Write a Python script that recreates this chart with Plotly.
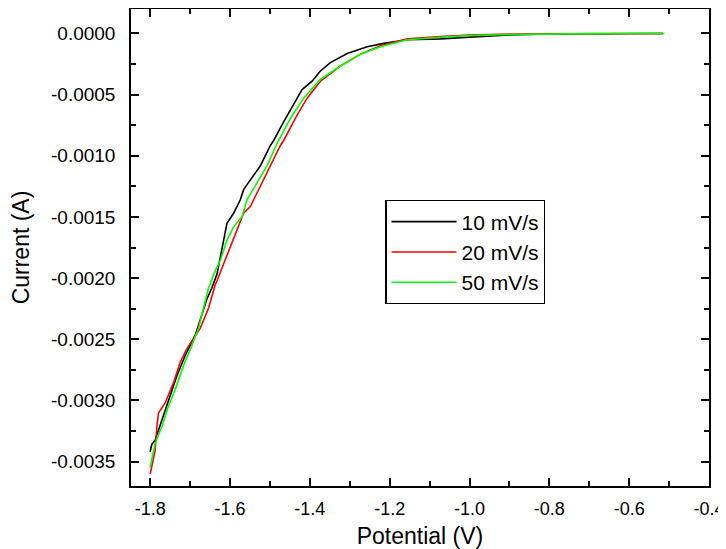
import plotly.graph_objects as go

# ── data (potential in V, current in A) ──
v_10 = [-1.800, -1.796, -1.7875, -1.7706, -1.7541, -1.7330, -1.7122, -1.6871, -1.6577,
        -1.6452, -1.6327, -1.6244, -1.6161, -1.6076, -1.5910, -1.5742, -1.5659, -1.5448,
        -1.5240, -1.4989, -1.4906, -1.4656, -1.4405, -1.4194, -1.3943, -1.3735, -1.3484,
        -1.3065, -1.2563, -1.2146, -1.1559, -1.0724, -1.000, -0.900, -0.800, -0.700,
        -0.600, -0.515]
i_10 = [-0.00342, -0.00336, -0.003325, -0.003159, -0.002993, -0.002799, -0.002633,
        -0.002467, -0.00217, -0.002079, -0.001969, -0.001830, -0.001664, -0.001553,
        -0.001470, -0.001360, -0.001277, -0.001179, -0.001082, -0.000916, -0.000875,
        -0.000723, -0.000584, -0.000459, -0.000390, -0.000307, -0.000238, -0.000164,
        -0.000108, -0.000081, -0.000052, -0.000044, -0.000030, -0.000012, -0.000004,
        -0.000001, 0.0, 0.0]

v_20 = [-1.800, -1.7875, -1.7832, -1.7792, -1.7624, -1.7415, -1.7247, -1.7079, -1.6746,
        -1.6537, -1.6369, -1.6327, -1.6161, -1.5993, -1.5825, -1.5659, -1.5491, -1.5240,
        -1.4989, -1.4738, -1.4656, -1.4319, -1.4068, -1.3735, -1.3233, -1.2731, -1.2230,
        -1.1559, -1.0724, -1.000, -0.900, -0.800, -0.700, -0.600, -0.515]
i_20 = [-0.003602, -0.003408, -0.003214, -0.003104, -0.003021, -0.002855, -0.002689,
        -0.002577, -0.002411, -0.002245, -0.002052, -0.002024, -0.001885, -0.001747,
        -0.001609, -0.001470, -0.001415, -0.001248, -0.001082, -0.000916, -0.000875,
        -0.000667, -0.000529, -0.000390, -0.000266, -0.000169, -0.000100, -0.000044,
        -0.000025, -0.000012, -0.000005, -0.000002, 0.0, 0.0, 0.0]

v_50 = [-1.800, -1.7875, -1.7706, -1.7541, -1.7373, -1.7165, -1.6954, -1.6788, -1.6663,
        -1.6537, -1.6495, -1.6412, -1.6244, -1.6076, -1.5910, -1.5699, -1.5574, -1.5323,
        -1.5072, -1.4823, -1.4487, -1.4154, -1.3735, -1.3233, -1.2731, -1.2230, -1.1559,
        -1.0724, -1.000, -0.900, -0.800, -0.700, -0.600, -0.512]
i_50 = [-0.003547, -0.003353, -0.003214, -0.003048, -0.002910, -0.002716, -0.002550,
        -0.002411, -0.002245, -0.002079, -0.002052, -0.001969, -0.001858, -0.001692,
        -0.001581, -0.001498, -0.001360, -0.001221, -0.001082, -0.000900, -0.000695,
        -0.000529, -0.000376, -0.000266, -0.000169, -0.000108, -0.000052, -0.000031,
        -0.000018, -0.000008, -0.000003, -0.000001, 0.0, 0.0]

series_names = ["10 mV/s", "20 mV/s", "50 mV/s"]
series_colors = ["#000000", "#ff0000", "#00ff00"]

x_tickvals = [-1.8, -1.6, -1.4, -1.2, -1.0, -0.8, -0.6, -0.4]
x_ticktext = ["-1.8", "-1.6", "-1.4", "-1.2", "-1.0", "-0.8", "-0.6", "-0.4"]
y_tickvals = [0.0, -0.0005, -0.0010, -0.0015, -0.0020, -0.0025, -0.0030, -0.0035]
y_ticktext = ["0.0000", "-0.0005", "-0.0010", "-0.0015", "-0.0020", "-0.0025",
              "-0.0030", "-0.0035"]

FONT = "Liberation Sans, Arial, sans-serif"

fig = go.Figure()
for (xs, ys), name, color in zip([(v_10, i_10), (v_20, i_20), (v_50, i_50)],
                                 series_names, series_colors):
    fig.add_trace(go.Scatter(x=xs, y=ys, name=name, mode="lines",
                             line=dict(color=color, width=1.6)))

axis_common = dict(
    showline=True, linecolor="black", linewidth=1.5, mirror="allticks",
    ticks="inside", ticklen=8, tickwidth=1.5, tickcolor="black",
    showgrid=False, zeroline=False, automargin=False,
)

fig.update_xaxes(
    **axis_common,
    range=[-1.848, -0.4],
    tickvals=x_tickvals, ticktext=x_ticktext,
    tickfont=dict(family=FONT, size=18, color="black"),
    minor=dict(dtick=0.1, tick0=-1.8, ticks="inside", ticklen=5, tickwidth=1.5,
               tickcolor="black", showgrid=False),
    title=dict(text="Potential (V)", font=dict(family=FONT, size=23, color="black"),
               standoff=10),
    ticklabelstandoff=6,
)
fig.update_yaxes(
    **axis_common,
    range=[-0.0037, 0.0002],
    tickvals=y_tickvals, ticktext=y_ticktext,
    tickfont=dict(family=FONT, size=19, color="black"),
    minor=dict(dtick=0.00025, tick0=0, ticks="inside", ticklen=5, tickwidth=1.5,
               tickcolor="black", showgrid=False),
    title=dict(text="Current (A)", font=dict(family=FONT, size=23, color="black"),
               standoff=15),
    ticklabelstandoff=10,
)

# the page body adds an 8px offset, so the figure is sized to fit the window
fig.update_layout(
    width=718, height=541,
    margin=dict(l=123, r=17, t=1, b=63),
    plot_bgcolor="white", paper_bgcolor="white",
    font=dict(family=FONT, color="black"),
    legend=dict(x=0.44, y=0.599, xanchor="left", yanchor="top",
                bordercolor="black", borderwidth=1.2, bgcolor="white",
                font=dict(family=FONT, size=21, color="black"),
                itemwidth=65, tracegroupgap=0),
    showlegend=True,
)

fig.write_html("out.html")
